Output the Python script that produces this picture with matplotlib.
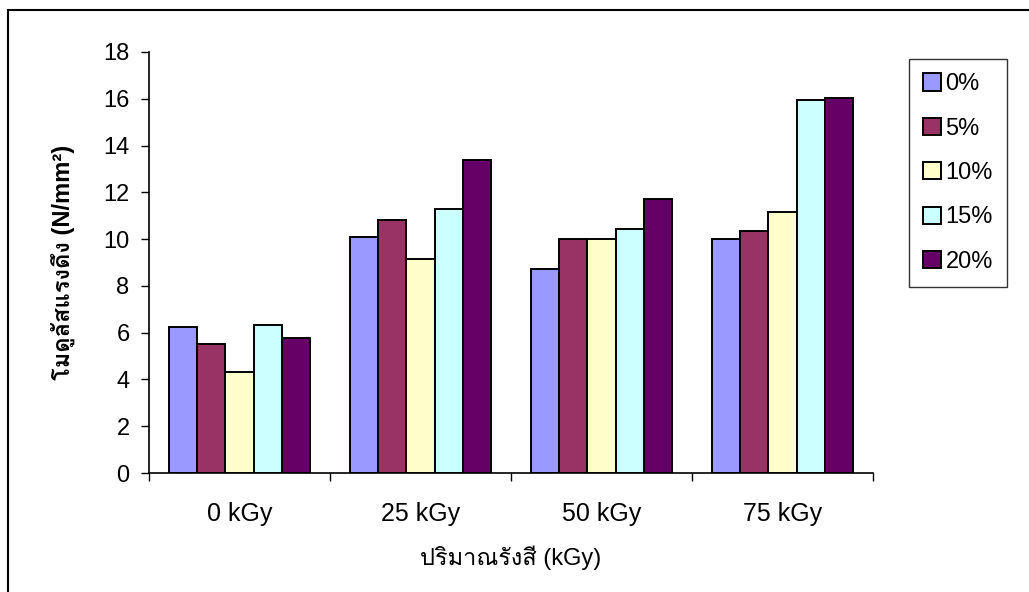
import matplotlib
matplotlib.use("Agg")
import matplotlib.pyplot as plt
from matplotlib import font_manager
from matplotlib.patches import Rectangle
import numpy as np

categories = ["0 kGy", "25 kGy", "50 kGy", "75 kGy"]
series_names = ["0%", "5%", "10%", "15%", "20%"]
s0 = [6.23, 10.08, 8.71, 10.00]
s5 = [5.50, 10.82, 9.99, 10.35]
s10 = [4.30, 9.15, 10.00, 11.17]
s15 = [6.33, 11.27, 10.43, 15.95]
s20 = [5.79, 13.38, 11.73, 16.05]
series = [s0, s5, s10, s15, s20]
colors = ["#9999FF", "#993366", "#FFFFCC", "#CCFFFF", "#660066"]
yticks = [0, 2, 4, 6, 8, 10, 12, 14, 16, 18]
xlabel = "ปริมาณรังสี (kGy)"
ylabel = "โมดูลัสแรงดึง (N/mm²)"

# find fonts with Thai glyphs (prefer one that has a bold face)
thai_fams = {}
try:
    from fontTools.ttLib import TTFont
    for f in font_manager.fontManager.ttflist:
        try:
            tt = TTFont(f.fname, fontNumber=0, lazy=True)
            cmap = tt.getBestCmap()
            if cmap and 0x0E1B in cmap and 0x0E21 in cmap:
                w = f.weight if isinstance(f.weight, int) else 400
                thai_fams.setdefault(f.name, set()).add(w)
        except Exception:
            continue
except Exception:
    pass

thai_regular = None
thai_bold = None
for name, ws in thai_fams.items():
    if thai_regular is None:
        thai_regular = name
    if any(w >= 600 for w in ws) and thai_bold is None:
        thai_bold = name
if thai_bold is None:
    thai_bold = thai_regular

names = {f.name for f in font_manager.fontManager.ttflist}
base = "Liberation Sans"
narrow = "Liberation Sans Narrow" if "Liberation Sans Narrow" in names else base

def famlist(first, thai):
    out = [first]
    if thai:
        out.append(thai)
    out.append("DejaVu Sans")
    return out

plt.rcParams['font.family'] = famlist(base, thai_regular)

W, H = 1029, 592
fig = plt.figure(figsize=(W / 100, H / 100), dpi=100)
ax = fig.add_axes([149 / W, 1 - 473 / H, (873 - 149) / W, (473 - 52) / H])

n = len(series)
x = np.arange(len(categories))
bw = 0.155
for i, (vals, c, name) in enumerate(zip(series, colors, series_names)):
    ax.bar(x + (i - (n - 1) / 2) * bw, vals, width=bw, color=c,
           edgecolor="black", linewidth=1.4, label=name, zorder=3)

ax.set_xlim(-0.5, len(categories) - 0.5)
ax.set_ylim(0, 18)
ax.set_yticks(yticks)
ax.set_yticklabels([str(v) for v in yticks], fontsize=17)
ax.set_xticks(x)
ax.set_xticklabels(categories, fontsize=18, family=famlist(narrow, thai_regular))
ax.set_xticks(np.arange(len(categories) + 1) - 0.5, minor=True)
ax.tick_params(axis='x', which='major', length=0, pad=21)
ax.tick_params(axis='x', which='minor', length=6, direction='out', width=1)
ax.tick_params(axis='y', length=6, direction='out', width=1, pad=8)
for s in ["top", "right"]:
    ax.spines[s].set_visible(False)
for s in ["left", "bottom"]:
    ax.spines[s].set_linewidth(1.2)

ax.set_xlabel(xlabel, fontsize=17, labelpad=14)
ax.set_ylabel(ylabel, fontsize=17, fontweight='bold', labelpad=20,
              family=famlist(base, thai_bold))

leg = ax.legend(loc='upper left', bbox_to_anchor=(909 / W, 1 - 59 / H),
                bbox_transform=fig.transFigure, frameon=True, fancybox=False,
                fontsize=17, handlelength=0.75, handleheight=0.75,
                handletextpad=0.2, labelspacing=0.95, borderpad=0.6,
                borderaxespad=0)
leg.get_frame().set_edgecolor("black")
leg.get_frame().set_linewidth(1.0)

# outer border of the chart area
fig.patches.append(Rectangle((7.5 / W, -0.1), 1.2, 1 - 9.5 / H + 0.1,
                             transform=fig.transFigure, fill=False,
                             edgecolor="black", linewidth=1.5))

fig.savefig("out.png", dpi=100)
